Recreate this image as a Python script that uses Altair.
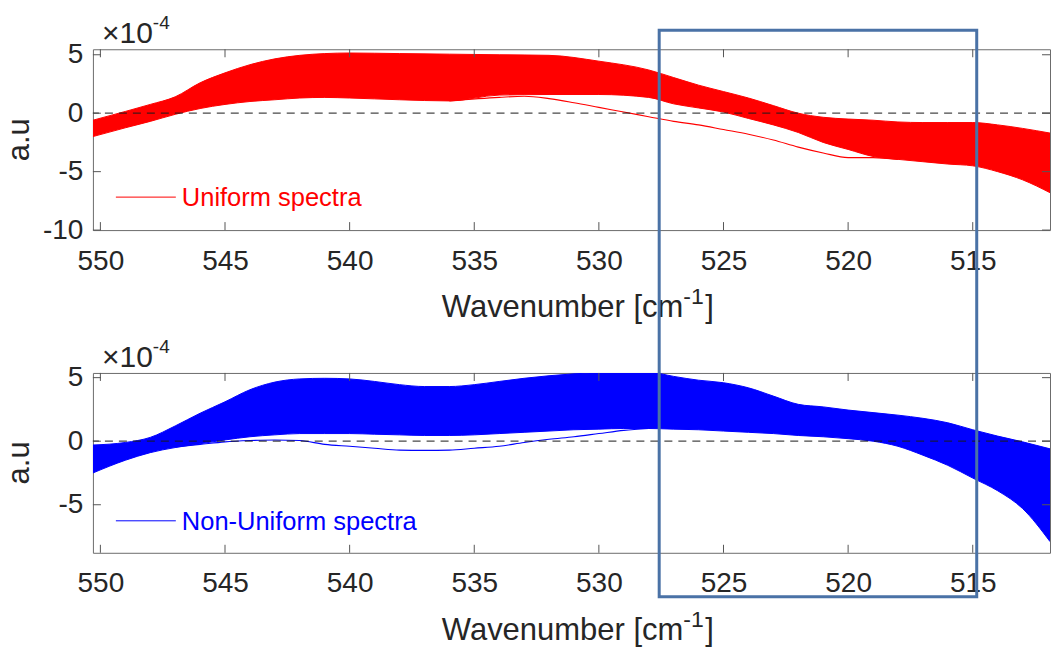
import altair as alt
import pandas as pd

FONT = "Liberation Sans"
TXT = "#262626"

# ---------------- data (absorbance in units of 1e-4) ----------------
x_ticks = [550, 545, 540, 535, 530, 525, 520, 515]

# Uniform spectra (top panel): envelope of the bundle of spectra
top_wn = [550.3, 549, 548, 547, 546, 545, 544, 543, 542, 541, 540, 538, 536, 534,
          532, 530, 528, 527, 526, 525, 524, 523, 522, 521, 520, 519, 518, 517,
          516, 515, 514, 513, 511.9]
top_upper = [-0.6, 0.15, 0.75, 1.4, 2.6, 3.45, 4.15, 4.65, 4.95, 5.1, 5.15, 5.1, 5.05, 5.0,
             4.95, 4.45, 3.7, 3.05, 2.4, 1.85, 1.3, 0.65, 0.0, -0.35, -0.5, -0.6, -0.75, -0.8,
             -0.8, -0.8, -1.0, -1.3, -1.7]
top_lower = [-2.0, -1.25, -0.7, -0.1, 0.4, 0.75, 1.0, 1.15, 1.3, 1.35, 1.3, 1.15, 1.05, 1.55,
             1.6, 1.6, 1.35, 0.8, 0.45, 0.1, -0.45, -1.0, -1.65, -2.5, -3.1, -3.7, -3.95, -4.15,
             -4.35, -4.5, -5.0, -5.7, -6.8]
# single outlying uniform spectrum
top_out_wn = [536, 534, 533, 532, 531, 530, 529, 528, 527, 526, 525, 524, 523, 522, 521,
              520, 519, 518]
top_out = [1.05, 1.35, 1.45, 1.25, 0.9, 0.5, 0.1, -0.3, -0.7, -1.0, -1.4, -1.8, -2.3, -2.9,
           -3.4, -3.8, -3.8, -3.95]
top_y_ticks = [5, 0, -5, -10]
top_y_domain = [-10, 5.47]

# Non-uniform spectra (bottom panel)
bot_wn = [550.3, 549, 548, 547, 546, 545, 544, 543, 542, 541, 540, 539, 538, 537, 536,
          535, 534, 533, 532, 531, 530, 529, 528, 527, 526, 525, 524, 523, 522, 521, 520,
          519, 518, 517, 516, 515, 514, 513, 511.9]
bot_upper = [-0.3, -0.1, 0.3, 1.2, 2.2, 3.1, 4.05, 4.65, 4.9, 4.95, 4.9, 4.7, 4.45, 4.3,
             4.3, 4.45, 4.7, 4.95, 5.15, 5.3, 5.4, 5.5, 5.45, 5.1, 4.8, 4.6, 4.2, 3.55, 2.9,
             2.7, 2.45, 2.25, 2.05, 1.8, 1.45, 0.9, 0.4, -0.05, -0.6]
bot_lower = [-2.5, -1.5, -0.9, -0.5, -0.2, 0.1, 0.35, 0.5, 0.6, 0.6, 0.6, 0.55, 0.5, 0.45,
             0.45, 0.5, 0.6, 0.7, 0.8, 0.9, 0.95, 1.0, 1.0, 0.95, 0.9, 0.8, 0.7, 0.6, 0.45,
             0.35, 0.2, 0.0, -0.4, -1.1, -1.9, -2.9, -3.9, -5.3, -7.9]
bot_out_wn = [547, 546, 545, 544, 543, 542, 541, 540, 539, 538, 537, 536, 535, 534, 533,
              532, 531, 530, 529, 528]
bot_out = [-0.45, -0.25, -0.05, 0.05, 0.1, 0.05, -0.25, -0.4, -0.55, -0.7, -0.72, -0.7,
           -0.55, -0.4, -0.1, 0.15, 0.35, 0.6, 0.85, 1.0]
bot_y_ticks = [5, 0, -5]
bot_y_domain = [-8.78, 5.37]

# highlighted region (wavenumbers)
box_x1 = [527.58]
box_x2 = [514.84]

W = 958
H_TOP = 181
H_BOT = 180
GAP = 143


def panel(wn, upper, lower, out_wn, out_vals, color, ydom, yticks, height, legend_text,
          anchor=False, box=False):
    band = pd.DataFrame({"wn": wn, "upper": upper, "lower": lower})
    out = pd.DataFrame({"wn": out_wn, "val": out_vals})
    xs = alt.Scale(domain=[511.9, 550.3], reverse=True, nice=False, zero=False)
    ys = alt.Scale(domain=ydom, nice=False, zero=False)
    xaxis = alt.Axis(values=x_ticks, tickSize=0, domain=False, grid=False, labelFontSize=28,
                     labelPadding=39, labelBaseline="alphabetic", labelFont=FONT,
                     labelColor=TXT, title=None)
    yaxis = alt.Axis(values=yticks, tickSize=0, domain=False, grid=False, labelFontSize=28,
                     labelPadding=10, labelFont=FONT, labelColor=TXT, title=None,
                     labelExpr="'' + datum.value")
    X = alt.X("wn:Q", scale=xs, axis=xaxis)

    area = alt.Chart(band).mark_area(color=color, interpolate="monotone", clip=True).encode(
        x=X, y=alt.Y("upper:Q", scale=ys, axis=yaxis), y2="lower:Q")
    up = alt.Chart(band).mark_line(color=color, strokeWidth=1, interpolate="monotone",
                                   clip=True).encode(x=alt.X("wn:Q", scale=xs),
                                                     y=alt.Y("upper:Q", scale=ys))
    lo = alt.Chart(band).mark_line(color=color, strokeWidth=1, interpolate="monotone",
                                   clip=True).encode(x=alt.X("wn:Q", scale=xs),
                                                     y=alt.Y("lower:Q", scale=ys))
    ol = alt.Chart(out).mark_line(color=color, strokeWidth=1.1, interpolate="monotone",
                                  clip=True).encode(x=alt.X("wn:Q", scale=xs),
                                                    y=alt.Y("val:Q", scale=ys))
    zero = alt.Chart(pd.DataFrame({"y": [0]})).mark_rule(
        color="#1a1a1a", opacity=0.8, strokeWidth=1.2, strokeDash=[8, 6]).encode(
        y=alt.Y("y:Q", scale=ys))

    tick_col = "#555555"
    xt = pd.DataFrame({"t": x_ticks})
    yt = pd.DataFrame({"t": yticks})
    xt_bot = alt.Chart(xt).mark_rule(color=tick_col, strokeWidth=1).encode(
        x=alt.X("t:Q", scale=xs), y=alt.value(height), y2=alt.value(height - 8))
    xt_top = alt.Chart(xt).mark_rule(color=tick_col, strokeWidth=1).encode(
        x=alt.X("t:Q", scale=xs), y=alt.value(0), y2=alt.value(8))
    yt_l = alt.Chart(yt).mark_rule(color=tick_col, strokeWidth=1).encode(
        y=alt.Y("t:Q", scale=ys), x=alt.value(0), x2=alt.value(8))
    yt_r = alt.Chart(yt).mark_rule(color=tick_col, strokeWidth=1).encode(
        y=alt.Y("t:Q", scale=ys), x=alt.value(W), x2=alt.value(W - 8))

    one = pd.DataFrame({"a": [0]})
    leg_line = alt.Chart(one).mark_rule(color=color, strokeWidth=1).encode(
        x=alt.value(23), x2=alt.value(83), y=alt.value(148))
    leg_text = alt.Chart(one).mark_text(text=legend_text, color=color, font=FONT,
                                        fontSize=25.5, align="left",
                                        baseline="alphabetic").encode(
        x=alt.value(89), y=alt.value(157))

    exp_a = alt.Chart(one).mark_text(text="×10", color=TXT, font=FONT, fontSize=30,
                                     align="right", baseline="alphabetic").encode(
        x=alt.value(60), y=alt.value(-6))
    exp_b = alt.Chart(one).mark_text(text="-4", color=TXT, font=FONT, fontSize=19,
                                     align="left", baseline="alphabetic").encode(
        x=alt.value(60), y=alt.value(-20))

    ylab = alt.Chart(one).mark_text(text="a.u", color=TXT, font=FONT, fontSize=31,
                                    angle=270, align="center",
                                    baseline="alphabetic").encode(
        x=alt.value(-64), y=alt.value(height / 2))

    xt1 = alt.Chart(one).mark_text(text="Wavenumber [cm", color=TXT, font=FONT, fontSize=31,
                                   align="right", baseline="alphabetic").encode(
        x=alt.value(591), y=alt.value(height + 87))
    xt2 = alt.Chart(one).mark_text(text="-1", color=TXT, font=FONT, fontSize=23,
                                   align="left", baseline="alphabetic").encode(
        x=alt.value(591), y=alt.value(height + 74))
    xt3 = alt.Chart(one).mark_text(text="]", color=TXT, font=FONT, fontSize=31,
                                   align="left", baseline="alphabetic").encode(
        x=alt.value(613), y=alt.value(height + 87))

    layers = [area, up, lo, ol, zero, xt_bot, xt_top, yt_l, yt_r, leg_line, leg_text,
              exp_a, exp_b, ylab, xt1, xt2, xt3]

    if anchor:
        anc = alt.Chart(one).mark_rule(opacity=0, strokeWidth=0.1).encode(
            x=alt.value(-92), y=alt.value(-48), y2=alt.value(-47))
        layers.append(anc)
    if box:
        bdf = pd.DataFrame({"x1": box_x1, "x2": box_x2})
        rect = alt.Chart(bdf).mark_rect(fillOpacity=0, stroke="#4a72a6", strokeWidth=3,
                                        clip=False).encode(
            x=alt.X("x1:Q", scale=xs), x2="x2:Q",
            y=alt.value(-(H_TOP + GAP + 48 - 29)),
            y2=alt.value(224))
        layers.append(rect)

    return alt.layer(*layers).properties(width=W, height=height)


top = panel(top_wn, top_upper, top_lower, top_out_wn, top_out, "#ff0000", top_y_domain,
            top_y_ticks, H_TOP, "Uniform spectra", anchor=True)
bot = panel(bot_wn, bot_upper, bot_lower, bot_out_wn, bot_out, "#0000ff", bot_y_domain,
            bot_y_ticks, H_BOT, "Non-Uniform spectra", box=True)

chart = alt.vconcat(top, bot, spacing=GAP, bounds="flush").properties(
    padding={"left": 0, "top": 0, "right": 0, "bottom": 0},
    background="white",
).configure_view(stroke="#6b6b6b", strokeWidth=1).resolve_scale(x="independent",
                                                                 y="independent")

chart.save("out.html", embed_options={"renderer": "svg", "actions": False})
